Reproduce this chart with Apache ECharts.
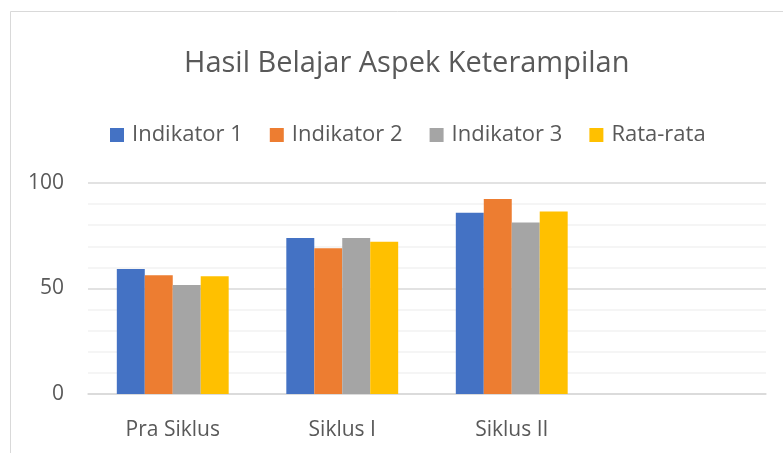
<!DOCTYPE html>
<html><head><meta charset="utf-8">
<script src="https://cdn.jsdelivr.net/npm/echarts@6/dist/echarts.min.js"></script>
<style>html,body{margin:0;padding:0;background:#fff}#c{width:783px;height:453px}</style>
</head><body><div id="c"></div>
<script>
const categories = ['Pra Siklus', 'Siklus I', 'Siklus II', ''];
const seriesNames = ['Indikator 1', 'Indikator 2', 'Indikator 3', 'Rata-rata'];
const indikator1 = [59.2, 73.9, 85.9, null];
const indikator2 = [56.3, 69.1, 92.4, null];
const indikator3 = [51.7, 73.9, 81.3, null];
const rataRata = [55.8, 72.1, 86.5, null];
const yTicks = [0, 50, 100];
const colors = ['#4472C4', '#ED7D31', '#A5A5A5', '#FFC000'];
const FONT = 'Open Sans';
const values = [indikator1, indikator2, indikator3, rataRata];
const chart = echarts.init(document.getElementById('c'), null, {renderer: 'canvas'});
chart.setOption({
  animation: false,
  backgroundColor: '#fff',
  graphic: [{type: 'rect', shape: {x: 10.5, y: 11.5, width: 900, height: 600}, style: {fill: 'none', stroke: '#D9D9D9', lineWidth: 1}, silent: true}],
  title: {text: 'Hasil Belajar Aspek Keterampilan', left: 179, top: 44, textStyle: {fontFamily: FONT, fontSize: 29, fontWeight: 'normal', color: '#595959'}},
  legend: {top: 119, left: 105, itemWidth: 14, itemHeight: 14, itemGap: 27, icon: 'rect', textStyle: {fontFamily: FONT, fontSize: 22, color: '#595959', padding: [0,0,0,3]}, data: seriesNames},
  grid: {left: 88, right: 17, top: 183, bottom: 59, containLabel: false},
  xAxis: {type: 'category', data: categories, axisLine: {lineStyle: {color: '#D9D9D9', width: 1.5}}, axisTick: {show: false},
    axisLabel: {margin: 26, fontFamily: FONT, fontSize: 21, color: '#595959'}},
  yAxis: {type: 'value', min: yTicks[0], max: yTicks[yTicks.length-1], interval: 50,
    axisLine: {show: false}, axisTick: {show: false},
    axisLabel: {margin: 24, fontFamily: FONT, fontSize: 21, color: '#595959'},
    splitLine: {lineStyle: {color: '#D9D9D9', width: 1.5}},
    minorTick: {show: false, splitNumber: 5},
    minorSplitLine: {show: true, lineStyle: {color: '#F2F2F2', width: 1.5}}},
  series: seriesNames.map((n, i) => ({name: n, type: 'bar', data: values[i], barGap: '0%', barCategoryGap: '34%',
    itemStyle: {color: colors[i]}}))
});
</script></body></html>
